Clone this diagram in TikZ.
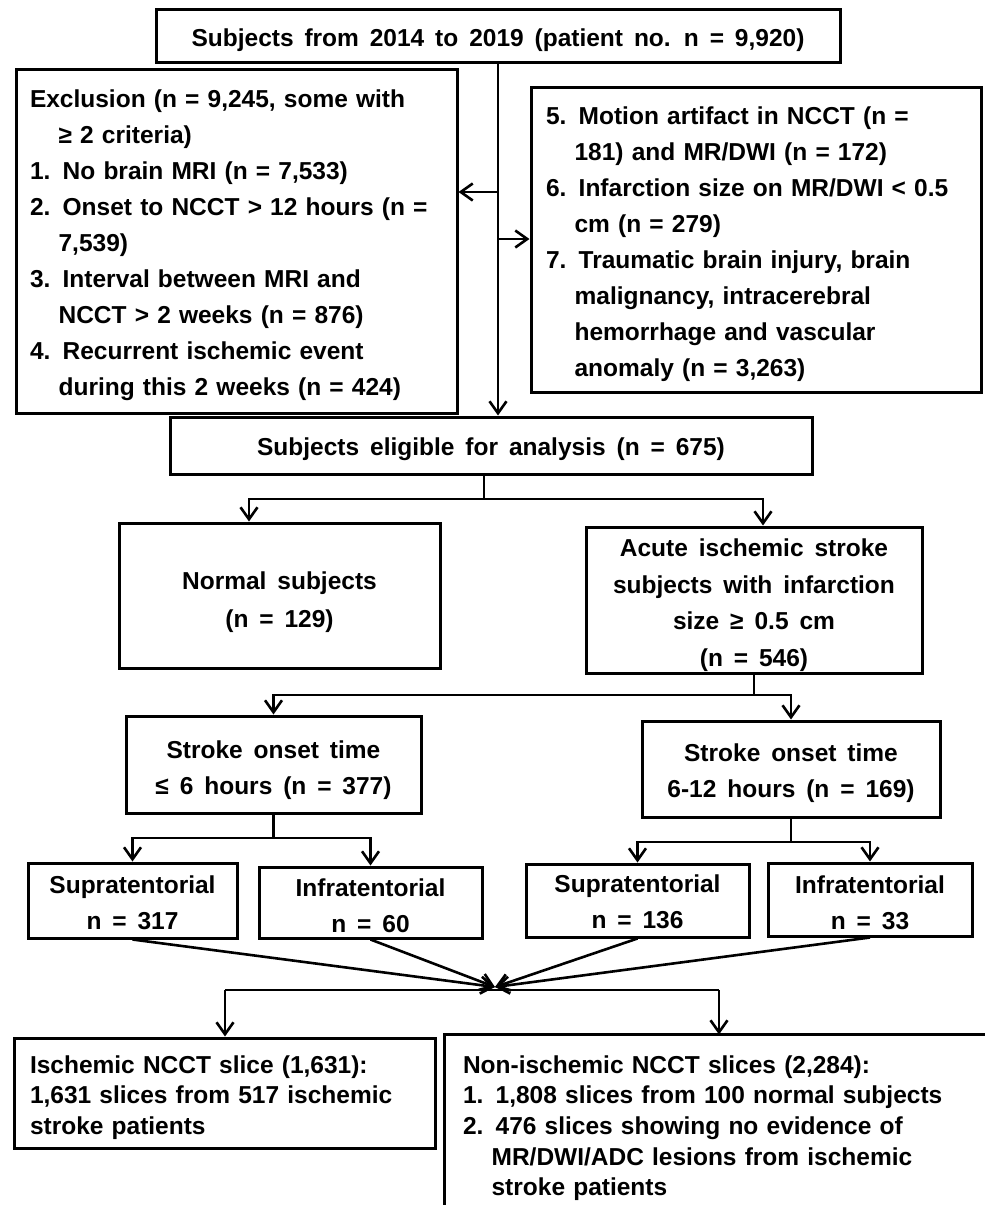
\documentclass[tikz,border=0pt]{standalone}
\usepackage{fontspec}
\setmainfont{Liberation Sans}[WordSpace=1.6]
\usetikzlibrary{arrows.meta,calc}
\newcommand\ind{\hphantom{1.\ }}
\newcommand\st[1]{\rule{0pt}{#1pt}}
\begin{document}
\begin{tikzpicture}[x=1pt,y=-1pt,
  box/.style={draw, line width=3pt, inner sep=0pt, align=center,
    font=\fontsize{24.5}{36}\selectfont\bfseries},
  lbox/.style={box, align=left, execute at begin node={\rule{0pt}{27pt}}},
  conn/.style={line width=2.6pt},
  arr/.style={conn, -{Straight Barb[length=12pt,width=17pt]}},
]
\useasboundingbox (0,0) rectangle (985,1205);
\fill[white] (0,0) rectangle (985,1205);
\clip (0,0) rectangle (985,1205);

\node[box, minimum width=684pt, minimum height=53pt] (top) at (498,35.5) {\st{27}Subjects from 2014 to 2019 (patient no. n = 9,920)};

\node[lbox, text width=413pt, inner xsep=14pt, minimum height=344pt] (excl) at (236.5,241) {Exclusion (n = 9,245, some with\\
\ind ≥ 2 criteria)\\
1. No brain MRI (n = 7,533)\\
2. Onset to NCCT > 12 hours (n =\\
\ind 7,539)\\
3. Interval between MRI and\\
\ind NCCT > 2 weeks (n = 876)\\
4. Recurrent ischemic event\\
\ind during this 2 weeks (n = 424)};

\node[lbox, text width=420pt, inner xsep=15pt, minimum height=305pt] (crit) at (756,239.5) {5. Motion artifact in NCCT (n =\\
\ind 181) and MR/DWI (n = 172)\\
6. Infarction size on MR/DWI < 0.5\\
\ind cm (n = 279)\\
7. Traumatic brain injury, brain\\
\ind malignancy, intracerebral\\
\ind hemorrhage and vascular\\
\ind anomaly (n = 3,263)};

\node[box, minimum width=642pt, minimum height=57pt] (elig) at (491,445.5) {\st{25}Subjects eligible for analysis (n = 675)};

\node[box, minimum width=321pt, minimum height=145pt, font=\fontsize{24.5}{38}\selectfont\bfseries] (normal) at (279.5,595.5) {\st{32}Normal subjects\\(n = 129)};
\node[box, minimum width=336pt, minimum height=146pt, font=\fontsize{24.5}{36.5}\selectfont\bfseries] (acute) at (754,600) {\st{28}Acute ischemic stroke\\subjects with infarction\\size ≥ 0.5 cm\\(n = 546)};

\node[box, minimum width=295pt, minimum height=97pt] (strokeL) at (273.5,764.5) {\st{30}Stroke onset time\\≤ 6 hours (n = 377)};
\node[box, minimum width=298pt, minimum height=96pt] (strokeR) at (791,769) {\st{27}Stroke onset time\\6-12 hours (n = 169)};

\node[box, minimum width=209pt, minimum height=75pt] (supraL) at (132.5,900.5) {\st{22}Supratentorial\\n = 317};
\node[box, minimum width=223pt, minimum height=71pt] (infraL) at (370.5,902.5) {\st{25}Infratentorial\\n = 60};
\node[box, minimum width=223pt, minimum height=73pt] (supraR) at (637.5,900.5) {\st{21}Supratentorial\\n = 136};
\node[box, minimum width=204pt, minimum height=73pt] (infraR) at (870,899.5) {\st{24}Infratentorial\\n = 33};

\node[lbox, text width=389pt, inner xsep=16pt, minimum height=110pt, font=\fontsize{24.5}{30.7}\selectfont\bfseries] (isch) at (224.5,1093) {Ischemic NCCT slice (1,631):\\
1,631 slices from 517 ischemic\\
stroke patients};

\node[lbox, draw=none, text width=515pt, inner xsep=17pt, minimum height=175pt, font=\fontsize{24.5}{30.7}\selectfont\bfseries] (noni) at (720.5,1123.5) {Non-ischemic NCCT slices (2,284):\\
1. 1,808 slices from 100 normal subjects\\
2. 476 slices showing no evidence of\\
\ind MR/DWI/ADC lesions from ischemic\\
\ind stroke patients};
\draw[line width=3pt] (noni.north east) -- (noni.north west) -- (noni.south west);

% connectors
\draw[arr] (top.south) -- (top.south |- elig.north);
\coordinate (jl) at (498,192);
\coordinate (jr) at (498,239);
\draw[arr] (jl) -- (jl -| excl.east);
\draw[arr] (jr) -- (jr -| crit.west);

\coordinate (e1) at (484,499);
\coordinate (nL) at (249,499);
\coordinate (nR) at (763,499);
\draw[conn] (e1 |- elig.south) -- (e1);
\draw[arr] (e1) -- (nL) -- (nL |- normal.north);
\draw[arr] (e1) -- (nR) -- (nR |- acute.north);

\coordinate (a1) at (754,695);
\draw[conn] (acute.south) -- (a1);
\draw[arr] (a1) -| (strokeL.north);
\draw[arr] (a1) -| (strokeR.north);

\coordinate (s1) at (273.5,838);
\draw[conn] (strokeL.south) -- (s1);
\draw[arr] (s1) -| (supraL.north);
\draw[arr] (s1) -| (infraL.north);
\coordinate (s2) at (791,842);
\draw[conn] (strokeR.south) -- (s2);
\draw[arr] (s2) -| (supraR.north);
\draw[arr] (s2) -| (infraR.north);

\coordinate (cv) at (495,987);
\foreach \n in {supraL,infraL,supraR,infraR} \draw[arr] (\n.south) -- (cv);

\coordinate (hL) at (225,990);
\coordinate (hR) at (719,990);
\draw[conn] (hL) -- (hR);
\draw[arr] (hL) -- (hL |- isch.north);
\draw[arr] (hR) -- (hR |- noni.north);
\end{tikzpicture}
\end{document}
